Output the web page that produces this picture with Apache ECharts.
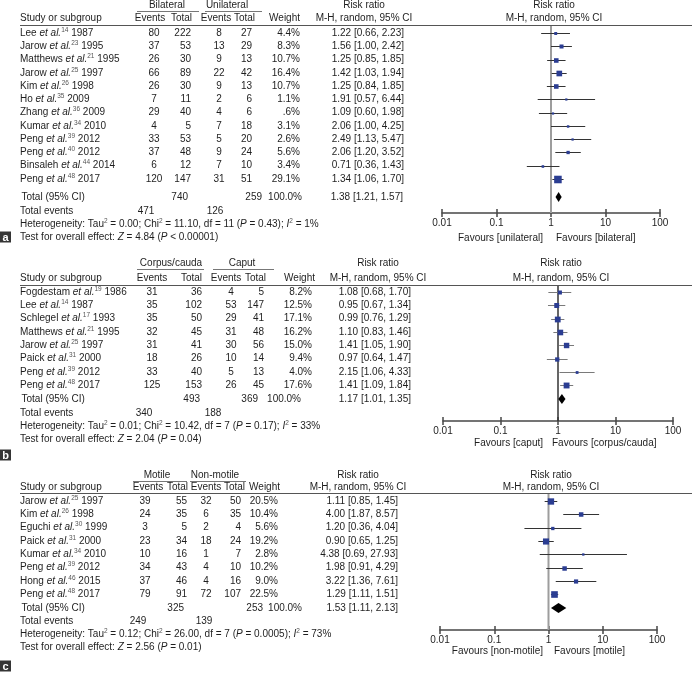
<!DOCTYPE html>
<html><head><meta charset="utf-8">
<script src="https://cdn.jsdelivr.net/npm/echarts@6/dist/echarts.min.js"></script>
<style>html,body{margin:0;padding:0;background:#fff}#c{width:695px;height:679px}</style>
</head><body><div id="c"></div><script>
const FONT = '"Liberation Sans", Arial, Helvetica, sans-serif';
const tickLabels = ['0.01', '0.1', '1', '10', '100'];

// ---------- Panel a: bilateral vs unilateral ----------
const aGroups = ['Bilateral', 'Unilateral'];
const aNames = ['Lee', 'Jarow', 'Matthews', 'Jarow', 'Kim', 'Ho', 'Zhang', 'Kumar', 'Peng', 'Peng', 'Binsaleh', 'Peng'];
const aRefs = ['14', '23', '21', '25', '26', '35', '36', '34', '39', '40', '44', '48'];
const aYears = ['1987', '1995', '1995', '1997', '1998', '2009', '2009', '2010', '2012', '2012', '2014', '2017'];
const aEv1 = [80, 37, 26, 66, 26, 7, 29, 4, 33, 37, 6, 120];
const aTot1 = [222, 53, 30, 89, 30, 11, 40, 5, 53, 48, 12, 147];
const aEv2 = [8, 13, 9, 22, 9, 2, 4, 7, 5, 9, 7, 31];
const aTot2 = [27, 29, 13, 42, 13, 6, 6, 18, 20, 24, 10, 51];
const aWeight = ['4.4%', '8.3%', '10.7%', '16.4%', '10.7%', '1.1%', '.6%', '3.1%', '2.6%', '5.6%', '3.4%', '29.1%'];
const aRR = [1.22, 1.56, 1.25, 1.42, 1.25, 1.91, 1.09, 2.06, 2.49, 2.06, 0.71, 1.34];
const aLo = [0.66, 1.00, 0.85, 1.03, 0.84, 0.57, 0.60, 1.00, 1.13, 1.20, 0.36, 1.06];
const aHi = [2.23, 2.42, 1.85, 1.94, 1.85, 6.44, 1.98, 4.25, 5.47, 3.52, 1.43, 1.70];
const aTotalN = [740, 259];
const aTotalRR = [1.38, 1.21, 1.57];
const aTotalEvents = [471, 126];
const aHet = ['0.00', '11.10', '11', '= 0.43', '1%'];
const aTest = ['4.84', '< 0.00001'];
const aFavours = ['Favours [unilateral]', 'Favours [bilateral]'];

// ---------- Panel b: corpus/cauda vs caput ----------
const bGroups = ['Corpus/cauda', 'Caput'];
const bNames = ['Fogdestam', 'Lee', 'Schlegel', 'Matthews', 'Jarow', 'Paick', 'Peng', 'Peng'];
const bRefs = ['19', '14', '17', '21', '25', '31', '39', '48'];
const bYears = ['1986', '1987', '1993', '1995', '1997', '2000', '2012', '2017'];
const bEv1 = [31, 35, 35, 32, 31, 18, 33, 125];
const bTot1 = [36, 102, 50, 45, 41, 26, 40, 153];
const bEv2 = [4, 53, 29, 31, 30, 10, 5, 26];
const bTot2 = [5, 147, 41, 48, 56, 14, 13, 45];
const bWeight = ['8.2%', '12.5%', '17.1%', '16.2%', '15.0%', '9.4%', '4.0%', '17.6%'];
const bRR = [1.08, 0.95, 0.99, 1.10, 1.41, 0.97, 2.15, 1.41];
const bLo = [0.68, 0.67, 0.76, 0.83, 1.05, 0.64, 1.06, 1.09];
const bHi = [1.70, 1.34, 1.29, 1.46, 1.90, 1.47, 4.33, 1.84];
const bTotalN = [493, 369];
const bTotalRR = [1.17, 1.01, 1.35];
const bTotalEvents = [340, 188];
const bHet = ['0.01', '10.42', '7', '= 0.17', '33%'];
const bTest = ['2.04', '= 0.04'];
const bFavours = ['Favours [caput]', 'Favours [corpus/cauda]'];

// ---------- Panel c: motile vs non-motile ----------
const cGroups = ['Motile', 'Non-motile'];
const cNames = ['Jarow', 'Kim', 'Eguchi', 'Paick', 'Kumar', 'Peng', 'Hong', 'Peng'];
const cRefs = ['25', '26', '30', '31', '34', '39', '46', '48'];
const cYears = ['1997', '1998', '1999', '2000', '2010', '2012', '2015', '2017'];
const cEv1 = [39, 24, 3, 23, 10, 34, 37, 79];
const cTot1 = [55, 35, 5, 34, 16, 43, 46, 91];
const cEv2 = [32, 6, 2, 18, 1, 4, 4, 72];
const cTot2 = [50, 35, 4, 24, 7, 10, 16, 107];
const cWeight = ['20.5%', '10.4%', '5.6%', '19.2%', '2.8%', '10.2%', '9.0%', '22.5%'];
const cRR = [1.11, 4.00, 1.20, 0.90, 4.38, 1.98, 3.22, 1.29];
const cLo = [0.85, 1.87, 0.36, 0.65, 0.69, 0.91, 1.36, 1.11];
const cHi = [1.45, 8.57, 4.04, 1.25, 27.93, 4.29, 7.61, 1.51];
const cTotalN = [325, 253];
const cTotalRR = [1.53, 1.11, 2.13];
const cTotalEvents = [249, 139];
const cHet = ['0.12', '26.00', '7', '= 0.0005', '73%'];
const cTest = ['2.56', '= 0.01'];
const cFavours = ['Favours [non-motile]', 'Favours [motile]'];

// ---------- layout (positions only) ----------
const LA = {
  groupY: 5, underY: 11, colY: 18, lineY: 25, row1: 33, step: 13.27, totalY: 197, teY: 211, hetY: 224, testY: 237,
  axisL: 442, axisR: 660, axisY: 213, favY: 238, favL: 543, favR: 556,
  groups: [[167, 137, 199], [227, 205, 262]],
  head: { ev1: 150, tot1: 192, ev2: 216, tot2: 255, w: 300, rr: 364, rrR: 554 },
  col: { ev1: 154, tot1: 191, ev2: 219, tot2: 252, w: 300, ci: 404 },
  tot: { tot1: 188, tot2: 262, w: 302, ci: 403 }, te: [146, 215],
  box: ['a', 237], vColor: '#9d9d9d', vWidth: 2, ciColor: '#333'
};
const LB = {
  groupY: 263, underY: 269, colY: 278, lineY: 285, row1: 292, step: 13.3, totalY: 399, teY: 413, hetY: 426, testY: 439,
  axisL: 443, axisR: 673, axisY: 421, favY: 443, favL: 543, favR: 552,
  groups: [[171, 137, 204], [242, 213, 274]],
  head: { ev1: 152, tot1: 202, ev2: 226, tot2: 266, w: 315, rr: 378, rrR: 561 },
  col: { ev1: 152, tot1: 202, ev2: 231, tot2: 264, w: 312, ci: 411 },
  tot: { tot1: 200, tot2: 258, w: 301, ci: 411 }, te: [144, 213],
  box: ['b', 455], vColor: '#333', vWidth: 1.5, ciColor: '#7a7a7a'
};
const LC = {
  groupY: 475, underY: 481, colY: 487, lineY: 493, row1: 501, step: 13.3, totalY: 608, teY: 621, hetY: 634, testY: 647,
  axisL: 440, axisR: 657, axisY: 630, favY: 651, favL: 543, favR: 554,
  groups: [[157, 133, 187], [215, 190, 246]],
  head: { ev1: 148, tot1: 188, ev2: 206, tot2: 245, w: 280, rr: 358, rrR: 551 },
  col: { ev1: 145, tot1: 187, ev2: 206, tot2: 241, w: 278, ci: 398 },
  tot: { tot1: 184, tot2: 263, w: 302, ci: 398 }, te: [138, 204],
  box: ['c', 666], vColor: '#9d9d9d', vWidth: 2, ciColor: '#333'
};

const panels = [
  { L: LA, groups: aGroups, names: aNames, refs: aRefs, years: aYears, ev1: aEv1, tot1: aTot1, ev2: aEv2, tot2: aTot2, weight: aWeight, rr: aRR, lo: aLo, hi: aHi, totalN: aTotalN, totalRR: aTotalRR, totalEvents: aTotalEvents, het: aHet, test: aTest, fav: aFavours },
  { L: LB, groups: bGroups, names: bNames, refs: bRefs, years: bYears, ev1: bEv1, tot1: bTot1, ev2: bEv2, tot2: bTot2, weight: bWeight, rr: bRR, lo: bLo, hi: bHi, totalN: bTotalN, totalRR: bTotalRR, totalEvents: bTotalEvents, het: bHet, test: bTest, fav: bFavours },
  { L: LC, groups: cGroups, names: cNames, refs: cRefs, years: cYears, ev1: cEv1, tot1: cTot1, ev2: cEv2, tot2: cTot2, weight: cWeight, rr: cRR, lo: cLo, hi: cHi, totalN: cTotalN, totalRR: cTotalRR, totalEvents: cTotalEvents, het: cHet, test: cTest, fav: cFavours }
];

const TXT = '#1e1e1e';
const rich = {
  n: { fontSize: 10, fontFamily: FONT, fill: TXT, lineHeight: 13 },
  i: { fontSize: 10, fontFamily: FONT, fontStyle: 'italic', fill: TXT, lineHeight: 13 },
  s: { fontSize: 6.5, fontFamily: FONT, fill: '#555', lineHeight: 8, verticalAlign: 'top' }
};
function T(x, y, text, align, extra) {
  return { type: 'text', silent: true, z: 10, style: Object.assign({ x: x, y: y, text: String(text), fill: TXT, fontSize: 10, fontFamily: FONT, align: align, textAlign: align, verticalAlign: 'middle', textVerticalAlign: 'middle' }, extra || {}) };
}
function RT(x, y, text) {
  return T(x, y, text, 'left', { rich: rich });
}
function HL(x1, x2, y, color) {
  return { type: 'line', silent: true, z: 5, shape: { x1: x1, y1: y + 0.5, x2: x2, y2: y + 0.5 }, style: { stroke: color || '#555', lineWidth: 1 } };
}
const ciText = (r, l, h) => r.toFixed(2) + ' [' + l.toFixed(2) + ', ' + h.toFixed(2) + ']';

const graphics = [];
const grids = [], xAxes = [], yAxes = [], series = [];

panels.forEach(function (P, pi) {
  const L = P.L;
  P.groups.forEach(function (g, gi) {
    const G = L.groups[gi];
    graphics.push(T(G[0], L.groupY, g, 'center'));
    graphics.push(HL(G[1], G[2], L.underY, '#777'));
  });
  graphics.push(T(L.head.rr, L.groupY, 'Risk ratio', 'center'));
  graphics.push(T(L.head.rrR, L.groupY, 'Risk ratio', 'center'));
  graphics.push(T(20, L.colY, 'Study or subgroup', 'left'));
  graphics.push(T(L.head.ev1, L.colY, 'Events', 'center'));
  graphics.push(T(L.head.tot1, L.colY, 'Total', 'right'));
  graphics.push(T(L.head.ev2, L.colY, 'Events', 'center'));
  graphics.push(T(L.head.tot2, L.colY, 'Total', 'right'));
  graphics.push(T(L.head.w, L.colY, 'Weight', 'right'));
  graphics.push(T(L.head.rr, L.colY, 'M-H, random, 95% CI', 'center'));
  graphics.push(T(L.head.rrR, L.colY, 'M-H, random, 95% CI', 'center'));
  graphics.push(HL(20, 692, L.lineY, '#555'));
  P.names.forEach(function (nm, i) {
    const y = L.row1 + i * L.step;
    graphics.push(RT(20, y, '{n|' + nm + ' }{i|et al.}{s|' + P.refs[i] + '}{n| ' + P.years[i] + '}'));
    graphics.push(T(L.col.ev1, y, P.ev1[i], 'center'));
    graphics.push(T(L.col.tot1, y, P.tot1[i], 'right'));
    graphics.push(T(L.col.ev2, y, P.ev2[i], 'center'));
    graphics.push(T(L.col.tot2, y, P.tot2[i], 'right'));
    graphics.push(T(L.col.w, y, P.weight[i], 'right'));
    graphics.push(T(L.col.ci, y, ciText(P.rr[i], P.lo[i], P.hi[i]), 'right'));
  });
  graphics.push(T(21.5, L.totalY, 'Total (95% CI)', 'left'));
  graphics.push(T(L.tot.tot1, L.totalY, P.totalN[0], 'right'));
  graphics.push(T(L.tot.tot2, L.totalY, P.totalN[1], 'right'));
  graphics.push(T(L.tot.w, L.totalY, '100.0%', 'right'));
  graphics.push(T(L.tot.ci, L.totalY, ciText(P.totalRR[0], P.totalRR[1], P.totalRR[2]), 'right'));
  graphics.push(T(20, L.teY, 'Total events', 'left'));
  graphics.push(T(L.te[0], L.teY, P.totalEvents[0], 'center'));
  graphics.push(T(L.te[1], L.teY, P.totalEvents[1], 'center'));
  const h = P.het;
  graphics.push(RT(20, L.hetY, '{n|Heterogeneity: Tau}{s|2}{n| = ' + h[0] + '; Chi}{s|2}{n| = ' + h[1] + ', df = ' + h[2] + ' (}{i|P}{n| ' + h[3] + '); }{i|I}{s|2}{n| = ' + h[4] + '}'));
  graphics.push(RT(20, L.testY, '{n|Test for overall effect: }{i|Z}{n| = ' + P.test[0] + ' (}{i|P}{n| ' + P.test[1] + ')}'));
  graphics.push(T(L.favL, L.favY, P.fav[0], 'right'));
  graphics.push(T(L.favR, L.favY, P.fav[1], 'left'));
  graphics.push({ type: 'rect', silent: true, z: 10, shape: { x: 0, y: L.box[1] - 5.5, width: 11, height: 11 }, style: { fill: '#353535' } });
  graphics.push(T(5.5, L.box[1] + 0.5, L.box[0], 'center', { fill: '#fff', fontWeight: 'bold', fontSize: 11 }));

  // ---------- forest plot drawn through the axes ----------
  const yMin = -(L.row1 - L.lineY) / L.step;
  const yMax = (L.axisY - L.row1) / L.step;
  const totalRow = (L.totalY - L.row1) / L.step;
  grids.push({ left: L.axisL, top: L.lineY, width: L.axisR - L.axisL, height: L.axisY - L.lineY, containLabel: false });
  const axCommon = { gridIndex: pi, type: 'log', logBase: 10, min: 0.01, max: 100, position: 'bottom', splitLine: { show: false }, minorTick: { show: false }, minorSplitLine: { show: false } };
  xAxes.push(Object.assign({}, axCommon, {
    axisLine: { show: true, onZero: false, lineStyle: { color: '#474747', width: 1.5 } },
    axisTick: { show: true, inside: false, length: 4, lineStyle: { color: '#474747', width: 1.5 } },
    axisLabel: { show: true, margin: 5, fontSize: 10, fontFamily: FONT, color: TXT, formatter: function (v) { return tickLabels[Math.round(Math.log10(v)) + 2]; } }
  }));
  xAxes.push(Object.assign({}, axCommon, {
    axisLine: { show: false, onZero: false },
    axisTick: { show: true, inside: true, length: 4, lineStyle: { color: '#474747', width: 1.5 } },
    axisLabel: { show: false }
  }));
  yAxes.push({ gridIndex: pi, type: 'value', inverse: true, min: yMin, max: yMax, show: false, splitLine: { show: false } });

  series.push({ type: 'line', xAxisIndex: 2 * pi, yAxisIndex: pi, data: [[1, yMin], [1, yMax]], symbol: 'none', silent: true, animation: false, lineStyle: { color: L.vColor, width: L.vWidth }, z: 1 });
  const ciColor = L.ciColor;
  series.push({
    type: 'custom', xAxisIndex: 2 * pi, yAxisIndex: pi, silent: true, animation: false, clip: false, z: 3,
    encode: { x: [0, 1, 2], y: 4 },
    data: P.rr.map(function (r, i) { return [r, P.lo[i], P.hi[i], parseFloat(P.weight[i]), i]; }),
    renderItem: function (params, api) {
      const row = api.value(4);
      const pL = api.coord([api.value(1), row]);
      const pH = api.coord([api.value(2), row]);
      const p = api.coord([api.value(0), row]);
      const s = Math.max(2.2, 1.4 * Math.sqrt(api.value(3)));
      const yy = Math.round(p[1]) + 0.5;
      return { type: 'group', children: [
        { type: 'line', shape: { x1: pL[0], y1: yy, x2: pH[0], y2: yy }, style: { stroke: ciColor, lineWidth: 1 } },
        { type: 'rect', shape: { x: p[0] - s / 2, y: yy - s / 2, width: s, height: s }, style: { fill: '#2b3d92' } }
      ] };
    }
  });
  series.push({
    type: 'custom', xAxisIndex: 2 * pi, yAxisIndex: pi, silent: true, animation: false, clip: false, z: 3,
    encode: { x: [0, 1, 2], y: 3 },
    data: [[P.totalRR[0], P.totalRR[1], P.totalRR[2], totalRow]],
    renderItem: function (params, api) {
      const row = api.value(3);
      const c = api.coord([api.value(0), row]);
      const l = api.coord([api.value(1), row]);
      const r = api.coord([api.value(2), row]);
      return { type: 'polygon', shape: { points: [[l[0], c[1]], [c[0], c[1] - 5], [r[0], c[1]], [c[0], c[1] + 5]] }, style: { fill: '#000' } };
    }
  });
});

const chart = echarts.init(document.getElementById('c'), null, { renderer: 'canvas' });
chart.setOption({
  animation: false,
  backgroundColor: '#fff',
  grid: grids,
  xAxis: xAxes,
  yAxis: yAxes,
  series: series,
  graphic: { elements: graphics }
});
</script></body></html>
